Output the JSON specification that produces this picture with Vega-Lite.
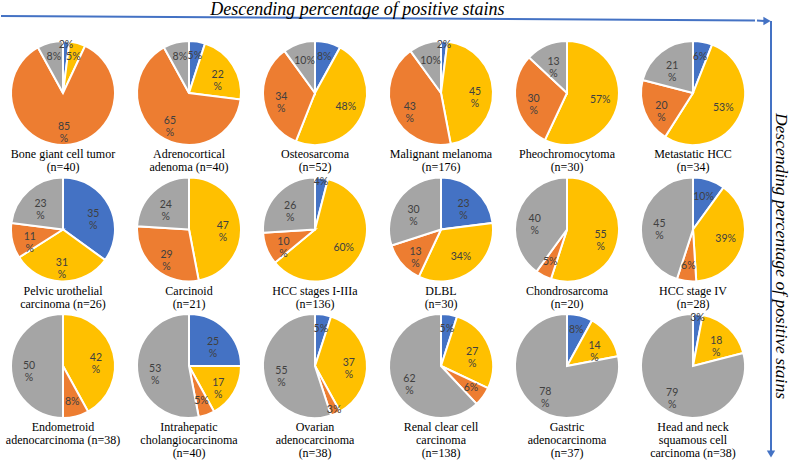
{
  "$schema": "https://vega.github.io/schema/vega-lite/v6.json",
  "padding": 0,
  "background": "white",
  "config": {"view": {"stroke": null}},
  "spacing": 0,
  "hconcat": [
    {
      "spacing": 0,
      "vconcat": [
        {
          "width": 754,
          "height": 35,
          "data": {"values": [{}]},
          "layer": [
            {
              "mark": {"type": "rule", "color": "#4472C4", "strokeWidth": 2},
              "encoding": {
                "x": {"datum": 0, "type": "quantitative", "scale": {"domain": [0, 754], "nice": false, "zero": false}, "axis": null},
                "x2": {"datum": 754},
                "y": {"datum": 14, "type": "quantitative", "scale": {"domain": [0, 35], "nice": false, "zero": false, "reverse": true}, "axis": null},
                "y2": {"datum": 18.6}
              }
            },
            {
              "mark": {"type": "text", "text": "Descending percentage of positive stains", "font": "Times New Roman, Liberation Serif, DejaVu Serif, serif", "fontStyle": "italic", "fontSize": 18, "baseline": "alphabetic", "align": "center", "color": "black"},
              "encoding": {
                "x": {"datum": 356.5, "type": "quantitative"},
                "y": {"datum": 12.5, "type": "quantitative"}
              }
            }
          ]
        },
        {
          "data": {"values": [
            {"tumor": "Bone giant cell tumor\n(n=40)", "stain": "Category 1", "pct": 2, "label": "2%"},
            {"tumor": "Bone giant cell tumor\n(n=40)", "stain": "Category 2", "pct": 5, "label": "5%"},
            {"tumor": "Bone giant cell tumor\n(n=40)", "stain": "Category 3", "pct": 85, "label": "85\n%"},
            {"tumor": "Bone giant cell tumor\n(n=40)", "stain": "Negative", "pct": 8, "label": "8%"},
            {"tumor": "Adrenocortical\nadenoma (n=40)", "stain": "Category 1", "pct": 5, "label": "5%"},
            {"tumor": "Adrenocortical\nadenoma (n=40)", "stain": "Category 2", "pct": 22, "label": "22\n%"},
            {"tumor": "Adrenocortical\nadenoma (n=40)", "stain": "Category 3", "pct": 65, "label": "65\n%"},
            {"tumor": "Adrenocortical\nadenoma (n=40)", "stain": "Negative", "pct": 8, "label": "8%"},
            {"tumor": "Osteosarcoma\n(n=52)", "stain": "Category 1", "pct": 8, "label": "8%"},
            {"tumor": "Osteosarcoma\n(n=52)", "stain": "Category 2", "pct": 48, "label": "48%"},
            {"tumor": "Osteosarcoma\n(n=52)", "stain": "Category 3", "pct": 34, "label": "34\n%"},
            {"tumor": "Osteosarcoma\n(n=52)", "stain": "Negative", "pct": 10, "label": "10%"},
            {"tumor": "Malignant melanoma\n(n=176)", "stain": "Category 1", "pct": 2, "label": "2%"},
            {"tumor": "Malignant melanoma\n(n=176)", "stain": "Category 2", "pct": 45, "label": "45\n%"},
            {"tumor": "Malignant melanoma\n(n=176)", "stain": "Category 3", "pct": 43, "label": "43\n%"},
            {"tumor": "Malignant melanoma\n(n=176)", "stain": "Negative", "pct": 10, "label": "10%"},
            {"tumor": "Pheochromocytoma\n(n=30)", "stain": "Category 2", "pct": 57, "label": "57%"},
            {"tumor": "Pheochromocytoma\n(n=30)", "stain": "Category 3", "pct": 30, "label": "30\n%"},
            {"tumor": "Pheochromocytoma\n(n=30)", "stain": "Negative", "pct": 13, "label": "13\n%"},
            {"tumor": "Metastatic HCC\n(n=34)", "stain": "Category 1", "pct": 6, "label": "6%"},
            {"tumor": "Metastatic HCC\n(n=34)", "stain": "Category 2", "pct": 53, "label": "53%"},
            {"tumor": "Metastatic HCC\n(n=34)", "stain": "Category 3", "pct": 20, "label": "20\n%"},
            {"tumor": "Metastatic HCC\n(n=34)", "stain": "Negative", "pct": 21, "label": "21\n%"},
            {"tumor": "Pelvic urothelial\ncarcinoma (n=26)", "stain": "Category 1", "pct": 35, "label": "35\n%"},
            {"tumor": "Pelvic urothelial\ncarcinoma (n=26)", "stain": "Category 2", "pct": 31, "label": "31\n%"},
            {"tumor": "Pelvic urothelial\ncarcinoma (n=26)", "stain": "Category 3", "pct": 11, "label": "11\n%"},
            {"tumor": "Pelvic urothelial\ncarcinoma (n=26)", "stain": "Negative", "pct": 23, "label": "23\n%"},
            {"tumor": "Carcinoid\n(n=21)", "stain": "Category 2", "pct": 47, "label": "47\n%"},
            {"tumor": "Carcinoid\n(n=21)", "stain": "Category 3", "pct": 29, "label": "29\n%"},
            {"tumor": "Carcinoid\n(n=21)", "stain": "Negative", "pct": 24, "label": "24\n%"},
            {"tumor": "HCC stages I-IIIa\n(n=136)", "stain": "Category 1", "pct": 4, "label": "4%"},
            {"tumor": "HCC stages I-IIIa\n(n=136)", "stain": "Category 2", "pct": 60, "label": "60%"},
            {"tumor": "HCC stages I-IIIa\n(n=136)", "stain": "Category 3", "pct": 10, "label": "10\n%"},
            {"tumor": "HCC stages I-IIIa\n(n=136)", "stain": "Negative", "pct": 26, "label": "26\n%"},
            {"tumor": "DLBL\n(n=30)", "stain": "Category 1", "pct": 23, "label": "23\n%"},
            {"tumor": "DLBL\n(n=30)", "stain": "Category 2", "pct": 34, "label": "34%"},
            {"tumor": "DLBL\n(n=30)", "stain": "Category 3", "pct": 13, "label": "13\n%"},
            {"tumor": "DLBL\n(n=30)", "stain": "Negative", "pct": 30, "label": "30\n%"},
            {"tumor": "Chondrosarcoma\n(n=20)", "stain": "Category 2", "pct": 55, "label": "55\n%"},
            {"tumor": "Chondrosarcoma\n(n=20)", "stain": "Category 3", "pct": 5, "label": "5%"},
            {"tumor": "Chondrosarcoma\n(n=20)", "stain": "Negative", "pct": 40, "label": "40\n%"},
            {"tumor": "HCC stage IV\n(n=28)", "stain": "Category 1", "pct": 10, "label": "10%"},
            {"tumor": "HCC stage IV\n(n=28)", "stain": "Category 2", "pct": 39, "label": "39%"},
            {"tumor": "HCC stage IV\n(n=28)", "stain": "Category 3", "pct": 6, "label": "6%"},
            {"tumor": "HCC stage IV\n(n=28)", "stain": "Negative", "pct": 45, "label": "45\n%"},
            {"tumor": "Endometroid\nadenocarcinoma (n=38)", "stain": "Category 2", "pct": 42, "label": "42\n%"},
            {"tumor": "Endometroid\nadenocarcinoma (n=38)", "stain": "Category 3", "pct": 8, "label": "8%"},
            {"tumor": "Endometroid\nadenocarcinoma (n=38)", "stain": "Negative", "pct": 50, "label": "50\n%"},
            {"tumor": "Intrahepatic\ncholangiocarcinoma\n(n=40)", "stain": "Category 1", "pct": 25, "label": "25\n%"},
            {"tumor": "Intrahepatic\ncholangiocarcinoma\n(n=40)", "stain": "Category 2", "pct": 17, "label": "17\n%"},
            {"tumor": "Intrahepatic\ncholangiocarcinoma\n(n=40)", "stain": "Category 3", "pct": 5, "label": "5%"},
            {"tumor": "Intrahepatic\ncholangiocarcinoma\n(n=40)", "stain": "Negative", "pct": 53, "label": "53\n%"},
            {"tumor": "Ovarian\nadenocarcinoma\n(n=38)", "stain": "Category 1", "pct": 5, "label": "5%"},
            {"tumor": "Ovarian\nadenocarcinoma\n(n=38)", "stain": "Category 2", "pct": 37, "label": "37\n%"},
            {"tumor": "Ovarian\nadenocarcinoma\n(n=38)", "stain": "Category 3", "pct": 3, "label": "3%"},
            {"tumor": "Ovarian\nadenocarcinoma\n(n=38)", "stain": "Negative", "pct": 55, "label": "55\n%"},
            {"tumor": "Renal clear cell\ncarcinoma\n(n=138)", "stain": "Category 1", "pct": 5, "label": "5%"},
            {"tumor": "Renal clear cell\ncarcinoma\n(n=138)", "stain": "Category 2", "pct": 27, "label": "27\n%"},
            {"tumor": "Renal clear cell\ncarcinoma\n(n=138)", "stain": "Category 3", "pct": 6, "label": "6%"},
            {"tumor": "Renal clear cell\ncarcinoma\n(n=138)", "stain": "Negative", "pct": 62, "label": "62\n%"},
            {"tumor": "Gastric\nadenocarcinoma\n(n=37)", "stain": "Category 1", "pct": 8, "label": "8%"},
            {"tumor": "Gastric\nadenocarcinoma\n(n=37)", "stain": "Category 2", "pct": 14, "label": "14\n%"},
            {"tumor": "Gastric\nadenocarcinoma\n(n=37)", "stain": "Negative", "pct": 78, "label": "78\n%"},
            {"tumor": "Head and neck\nsquamous cell\ncarcinoma (n=38)", "stain": "Category 1", "pct": 3, "label": "3%"},
            {"tumor": "Head and neck\nsquamous cell\ncarcinoma (n=38)", "stain": "Category 2", "pct": 18, "label": "18\n%"},
            {"tumor": "Head and neck\nsquamous cell\ncarcinoma (n=38)", "stain": "Negative", "pct": 79, "label": "79\n%"}
          ]},
          "facet": {
            "field": "tumor",
            "type": "nominal",
            "sort": [
              "Bone giant cell tumor\n(n=40)",
              "Adrenocortical\nadenoma (n=40)",
              "Osteosarcoma\n(n=52)",
              "Malignant melanoma\n(n=176)",
              "Pheochromocytoma\n(n=30)",
              "Metastatic HCC\n(n=34)",
              "Pelvic urothelial\ncarcinoma (n=26)",
              "Carcinoid\n(n=21)",
              "HCC stages I-IIIa\n(n=136)",
              "DLBL\n(n=30)",
              "Chondrosarcoma\n(n=20)",
              "HCC stage IV\n(n=28)",
              "Endometroid\nadenocarcinoma (n=38)",
              "Intrahepatic\ncholangiocarcinoma\n(n=40)",
              "Ovarian\nadenocarcinoma\n(n=38)",
              "Renal clear cell\ncarcinoma\n(n=138)",
              "Gastric\nadenocarcinoma\n(n=37)",
              "Head and neck\nsquamous cell\ncarcinoma (n=38)"
            ],
            "header": {
              "title": null,
              "labelOrient": "bottom",
              "labelExpr": "split(datum.value, '\\n')",
              "labelFont": "Times New Roman, Liberation Serif, DejaVu Serif, serif",
              "labelFontSize": 12,
              "labelColor": "black",
              "labelLineHeight": 13,
              "labelPadding": 0
            }
          },
          "columns": 6,
          "spacing": {"row": 32.5, "column": 2},
          "bounds": "flush",
          "spec": {
            "width": 124,
            "height": 104,
            "layer": [
              {
                "mark": {"type": "arc", "outerRadius": 52, "stroke": "white", "strokeWidth": 2},
                "encoding": {
                  "theta": {"field": "pct", "type": "quantitative", "stack": true, "scale": {"domain": [0, 100]}},
                  "color": {
                    "field": "stain",
                    "type": "nominal",
                    "scale": {"domain": ["Category 1", "Category 2", "Category 3", "Negative"], "range": ["#4472C4", "#FFC000", "#ED7D31", "#A5A5A5"]},
                    "legend": null
                  },
                  "order": {"field": "stain", "type": "ordinal", "sort": "ascending"}
                }
              },
              {
                "mark": {"type": "text", "radius": {"expr": "datum.pct < 5 ? 48 : datum.pct < 10 ? 37 : 34"}, "font": "Lato", "fontSize": 10.5, "color": "#404040", "lineBreak": "\n", "lineHeight": 12, "baseline": "middle", "align": "center"},
                "encoding": {
                  "theta": {"field": "pct", "type": "quantitative", "stack": true},
                  "text": {"field": "label", "type": "nominal"},
                  "detail": {"field": "stain", "type": "nominal"},
                  "order": {"field": "stain", "type": "ordinal", "sort": "ascending"}
                }
              }
            ]
          }
        }
      ]
    },
    {
      "width": 35,
      "height": 462,
      "data": {"values": [{}]},
      "layer": [
        {
          "mark": {"type": "rule", "color": "#4472C4", "strokeWidth": 2},
          "encoding": {
            "x": {"datum": 0, "type": "quantitative", "scale": {"domain": [0, 35], "nice": false, "zero": false}, "axis": null},
            "x2": {"datum": 8},
            "y": {"datum": 18.6, "type": "quantitative", "scale": {"domain": [0, 462], "nice": false, "zero": false, "reverse": true}, "axis": null},
            "y2": {"datum": 19}
          }
        },
        {
          "mark": {"type": "rule", "color": "#4472C4", "strokeWidth": 2},
          "encoding": {
            "x": {"datum": 14, "type": "quantitative"},
            "y": {"datum": 19, "type": "quantitative"},
            "y2": {"datum": 450}
          }
        },
        {
          "mark": {"type": "point", "shape": "triangle-right", "filled": true, "size": 70, "color": "#4472C4", "opacity": 1},
          "encoding": {
            "x": {"datum": 10, "type": "quantitative"},
            "y": {"datum": 19, "type": "quantitative"}
          }
        },
        {
          "mark": {"type": "point", "shape": "triangle-down", "filled": true, "size": 70, "color": "#4472C4", "opacity": 1},
          "encoding": {
            "x": {"datum": 14, "type": "quantitative"},
            "y": {"datum": 452, "type": "quantitative"}
          }
        },
        {
          "mark": {"type": "text", "text": "Descending percentage of positive stains", "font": "Times New Roman, Liberation Serif, DejaVu Serif, serif", "fontStyle": "italic", "fontSize": 17.5, "angle": 90, "baseline": "middle", "align": "center", "color": "black"},
          "encoding": {
            "x": {"datum": 23.5, "type": "quantitative"},
            "y": {"datum": 254, "type": "quantitative"}
          }
        }
      ]
    }
  ]
}
